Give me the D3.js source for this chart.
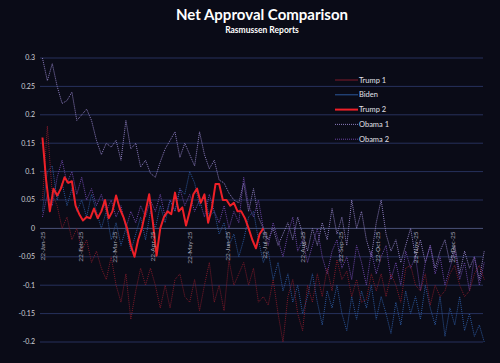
<!DOCTYPE html>
<html>
<head>
<meta charset="utf-8">
<script src="https://cdn.jsdelivr.net/npm/d3@7"></script>
<style>
  body { margin: 0; background: #0a0b17; }
  svg { display: block; font-family: Lato, "Open Sans", sans-serif; }
</style>
</head>
<body>
<svg id="chart" width="500" height="363"></svg>
<script>
// values, one point every few days
var trump2Start = "2025-01-22", trump2Step = 3;
var trump2 = [0.16, 0.085, 0.03, 0.07, 0.058, 0.07, 0.09, 0.08, 0.083, 0.04,
    0.025, 0.014, 0.02, 0.018, 0.035, 0.018, 0.03, 0.05, 0.018, 0.03,
    0.058, 0.035, 0.02, 0.0, -0.03, -0.05, -0.02, 0.0, 0.03, 0.06,
    0.01, -0.048, 0.0, 0.02, 0.03, 0.025, 0.063, 0.03, 0.037, 0.005,
    0.03, 0.06, 0.07, 0.045, 0.06, 0.01, 0.035, 0.078, 0.078, 0.05,
    0.05, 0.04, 0.045, 0.03, 0.03, 0.018, 0.0, -0.02, -0.035, -0.01, 0.0];

var otherStart = "2025-01-22", otherStep = 4;
var trump1 = [0.05, 0.18, 0.06, 0.04, 0.0, 0.02, -0.02, 0.0, -0.04, -0.02,
    -0.06, -0.04, -0.07, -0.09, -0.05, -0.1, -0.13, -0.08, -0.16, -0.11,
    -0.07, -0.1, -0.07, -0.1, -0.14, -0.1, -0.14, -0.09, -0.08, -0.12,
    -0.13, -0.09, -0.145, -0.1, -0.06, -0.13, -0.1, -0.145, -0.056, -0.1,
    -0.08, -0.06, -0.1, -0.07, -0.13, -0.12, -0.135, -0.09, -0.15, -0.2,
    -0.12, -0.09, -0.15, -0.18, -0.1, -0.13, -0.08, -0.12, -0.07, -0.11,
    -0.055, -0.09, -0.075, -0.12, -0.09, -0.13, -0.125, -0.08, -0.11, -0.08,
    -0.12, -0.08, -0.1, -0.13, -0.07, -0.065, -0.1, -0.11, -0.08, -0.135,
    -0.1, -0.12, -0.11, -0.08, -0.065, -0.1, -0.12, -0.11, -0.08, -0.065, -0.09];
var biden = [0.03, 0.1, 0.11, 0.05, 0.08, 0.04, 0.07, 0.03, 0.05, 0.02,
    0.06, 0.03, 0.0, 0.03, -0.02, 0.01, -0.03, 0.0, -0.04, -0.01,
    0.02, -0.02, 0.03, 0.0, 0.04, 0.01, 0.05, 0.03, 0.07, 0.06,
    0.1, 0.08, 0.04, 0.06, 0.02, 0.03, -0.01, 0.01, -0.03, -0.01,
    -0.05, -0.02, 0.02, 0.03, -0.02, -0.06, -0.04, -0.09, -0.06, -0.11,
    -0.08, -0.13, -0.1, -0.15, -0.12, -0.08, -0.13, -0.17, -0.11, -0.14,
    -0.1, -0.15, -0.18, -0.12, -0.16, -0.11, -0.14, -0.1, -0.16, -0.12,
    -0.15, -0.185, -0.13, -0.17, -0.11, -0.15, -0.12, -0.16, -0.1, -0.14,
    -0.17, -0.12, -0.19, -0.14, -0.17, -0.12, -0.18, -0.15, -0.19, -0.17, -0.2];
var obama1 = [0.3, 0.26, 0.29, 0.25, 0.22, 0.225, 0.24, 0.19, 0.2, 0.21,
    0.19, 0.155, 0.13, 0.15, 0.143, 0.155, 0.12, 0.19, 0.14, 0.15,
    0.108, 0.12, 0.097, 0.09, 0.117, 0.14, 0.155, 0.17, 0.125, 0.15,
    0.13, 0.11, 0.17, 0.13, 0.105, 0.12, 0.085, 0.08, 0.062, 0.05,
    0.045, 0.08, 0.03, 0.07, 0.02, 0.0, -0.02, 0.0, -0.03, -0.01,
    0.01, -0.02, 0.02, -0.01, -0.04, 0.0, -0.03, 0.01, -0.02, 0.035,
    -0.01, 0.02, -0.03, 0.05, 0.0, 0.03, -0.02, -0.05, 0.01, 0.05,
    -0.01, -0.04, -0.02, -0.06, -0.03, 0.0, -0.05, -0.02, -0.06, -0.03,
    -0.07, -0.04, -0.02, -0.06, -0.03, -0.08, -0.04, -0.07, -0.05, -0.09, -0.04];
var obama2 = [0.02, 0.06, 0.04, 0.09, 0.12, 0.08, 0.1, 0.06, 0.09, 0.05,
    0.07, 0.04, 0.06, 0.03, 0.05, 0.02, 0.04, 0.0, 0.03, 0.01,
    0.04, 0.02, 0.05, 0.03, 0.06, 0.02, 0.05, 0.03, 0.07, 0.04,
    0.06, 0.03, 0.05, 0.02, 0.06, 0.03, 0.01, 0.04, 0.0, 0.03,
    0.01, 0.09, 0.04, 0.02, 0.05, 0.0, -0.03, 0.01, -0.02, -0.05,
    -0.01, 0.02, -0.04, -0.02, -0.06, -0.03, 0.0, -0.05, -0.08, -0.04,
    -0.02, -0.07, -0.05, -0.09, -0.03, -0.06, -0.1, -0.04, -0.08, -0.05,
    -0.03, -0.09, -0.06, -0.1, -0.04, -0.07, -0.05, -0.11, -0.06, -0.03,
    -0.08, -0.05, -0.1, -0.07, -0.04, -0.09, -0.06, -0.11, -0.05, -0.1, -0.06];

var yTicks = [0.3, 0.25, 0.2, 0.15, 0.1, 0.05, 0, -0.05, -0.1, -0.15, -0.2];
var tickMonths = ["2025-01-22", "2025-02-22", "2025-03-22", "2025-04-22", "2025-05-22", "2025-06-22",
    "2025-07-22", "2025-08-22", "2025-09-22", "2025-10-22", "2025-11-22", "2025-12-22"];

var seriesNames = ["Trump 1", "Biden", "Trump 2", "Obama 1", "Obama 2"];
var seriesColors = ["#7e1a2a", "#2b579c", "#ee2028", "#8c7dbf", "#6a45a6"];

var parse = d3.timeParse("%Y-%m-%d");
function toPoints(vals, start, step) {
    var s = parse(start);
    return vals.map(function (v, i) {
        return { date: d3.timeDay.offset(s, i * step), v: v };
    });
}

var series = [
    { name: "Obama 1", pts: toPoints(obama1, otherStart, otherStep) },
    { name: "Obama 2", pts: toPoints(obama2, otherStart, otherStep) },
    { name: "Biden", pts: toPoints(biden, otherStart, otherStep) },
    { name: "Trump 1", pts: toPoints(trump1, otherStart, otherStep) },
    { name: "Trump 2", pts: toPoints(trump2, trump2Start, trump2Step) }
];

var svg = d3.select("#chart");
var plotL = 40, plotR = 483, plotT = 58, plotB = 342;

var x = d3.scaleTime()
    .domain([parse("2025-01-20"), parse("2026-01-16")])
    .range([plotL, plotR]);
var y = d3.scaleLinear()
    .domain([-0.2, 0.3])
    .range([plotB, plotT]);

function colorOf(name) { return seriesColors[seriesNames.indexOf(name)]; }

// title
svg.append("text").attr("x", 262).attr("y", 20)
    .attr("text-anchor", "middle").attr("fill", "#ffffff")
    .style("font-size", "15px").style("font-weight", "bold")
    .text("Net Approval Comparison");
svg.append("text").attr("x", 262).attr("y", 33)
    .attr("text-anchor", "middle").attr("fill", "#ffffff")
    .style("font-size", "8.5px").style("font-weight", "bold")
    .text("Rasmussen Reports");

// gridlines
svg.append("g").selectAll("line").data(yTicks).enter().append("line")
    .attr("x1", plotL).attr("x2", plotR)
    .attr("y1", function (d) { return y(d); })
    .attr("y2", function (d) { return y(d); })
    .attr("stroke", function (d) { return d === 0 ? "#4a5278" : "#27315c"; })
    .attr("stroke-width", 1);

// y labels
var fmt = function (d) { return String(+d.toFixed(2)); };
svg.append("g").selectAll("text").data(yTicks).enter().append("text")
    .attr("x", 35)
    .attr("y", function (d) { return y(d); })
    .attr("dy", "0.35em")
    .attr("text-anchor", "end")
    .attr("fill", "#d0d0d8")
    .style("font-size", "7px")
    .text(fmt);

// lines
var line = d3.line()
    .x(function (d) { return x(d.date); })
    .y(function (d) { return y(d.v); });

svg.append("g").selectAll("path").data(series).enter().append("path")
    .attr("d", function (d) { return line(d.pts); })
    .attr("fill", "none")
    .attr("stroke", function (d) { return colorOf(d.name); })
    .attr("stroke-width", function (d) { return d.name === "Trump 2" ? 2 : 1; })
    .attr("stroke-dasharray", function (d) { return d.name === "Trump 2" ? null : "1,1"; })
    .attr("stroke-linejoin", "round");

// date labels along the zero line
var dfmt = d3.timeFormat("%d-%b-%y");
svg.append("g").selectAll("text").data(tickMonths).enter().append("text")
    .attr("transform", function (d) {
        return "translate(" + x(parse(d)) + "," + (y(0) + 3) + ") rotate(-90)";
    })
    .attr("dy", "0.35em")
    .attr("text-anchor", "end")
    .attr("fill", "#a8a8b8")
    .style("font-size", "6.5px")
    .text(function (d) { return dfmt(parse(d)); });

// legend
var legend = svg.append("g").selectAll("g").data(seriesNames).enter().append("g")
    .attr("transform", function (d, i) { return "translate(335," + (80 + i * 14.8) + ")"; });
legend.append("line")
    .attr("x1", 0).attr("x2", 23)
    .attr("stroke", function (d) { return colorOf(d); })
    .attr("stroke-width", function (d) { return d === "Trump 2" ? 2 : 1; })
    .attr("stroke-dasharray", function (d) { return d.indexOf("Obama") === 0 ? "1,1" : null; });
legend.append("text")
    .attr("x", 24).attr("dy", "0.35em")
    .attr("fill", "#e0e0e8")
    .style("font-size", "7.5px")
    .text(function (d) { return d; });
</script>
</body>
</html>
